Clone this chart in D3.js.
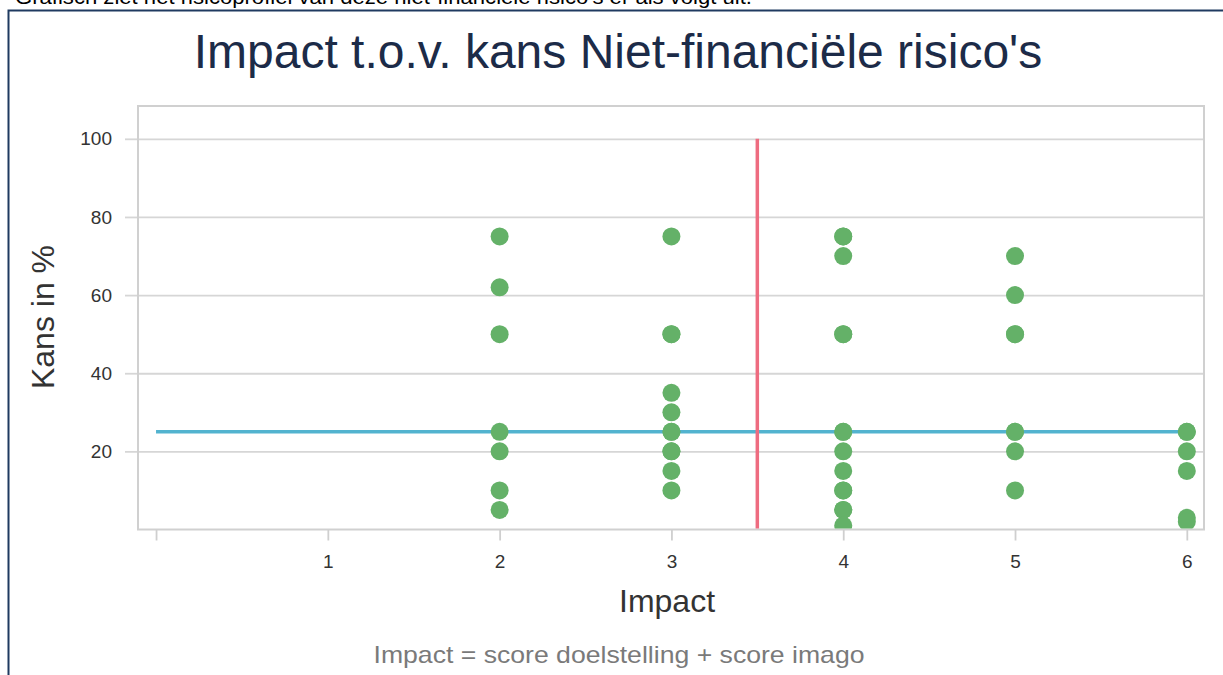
<!DOCTYPE html>
<html>
<head>
<meta charset="utf-8">
<script src="https://cdn.jsdelivr.net/npm/d3@7"></script>
<style>
  body { margin: 0; background: #fff; }
  svg { display: block; }
</style>
</head>
<body>
<div id="chart"></div>
<script>
// values
const impact = [2, 2, 2, 2, 2, 2, 2,
                3, 3, 3, 3, 3, 3, 3, 3, 3, 3, 3,
                4, 4, 4, 4, 4, 4, 4, 4, 4, 4, 4, 4, 4, 4,
                5, 5, 5, 5, 5, 5, 5, 5,
                6, 6, 6, 6, 6, 6];
const kans = [75, 62, 50, 25, 20, 10, 5,
              75, 50, 50, 35, 30, 25, 25, 20, 20, 15, 10,
              75, 75, 70, 50, 50, 25, 25, 20, 15, 10, 10, 5, 5, 1,
              70, 60, 50, 50, 25, 25, 20, 10,
              25, 25, 20, 15, 3, 2];
const xTicks = [0, 1, 2, 3, 4, 5, 6];
const yTicks = [20, 40, 60, 80, 100];
const kansThreshold = 25;
const impactThreshold = 3.5;

const W = 1223, H = 675;
const plot = { left: 138, right: 1204, top: 106, bottom: 529.5 };

const svg = d3.select("#chart")
    .append("svg")
    .attr("width", W)
    .attr("height", H);

// page text cut off at the top
svg.append("text")
    .attr("x", 15)
    .attr("y", 4)
    .attr("textLength", 737)
    .attr("lengthAdjust", "spacingAndGlyphs")
    .style("font-family", "Liberation Sans, Arial, sans-serif")
    .style("font-size", "20px")
    .attr("fill", "#000")
    .text("Grafisch ziet het risicoprofiel van deze niet-financiële risico's er als volgt uit.");

// frame
svg.append("path")
    .attr("d", `M8.5,${H + 5} V10.5 H${W + 5}`)
    .attr("fill", "none")
    .attr("stroke", "#1f3a60")
    .attr("stroke-width", 2);

const x = d3.scaleLinear()
    .domain([-0.105, 6.1])
    .range([plot.left, plot.right]);

const y = d3.scaleLinear()
    .domain([0, 108.4])
    .range([plot.bottom, plot.top]);

const font = "Liberation Sans, Arial, sans-serif";

// title
svg.append("text")
    .attr("x", 618)
    .attr("y", 68)
    .attr("text-anchor", "middle")
    .style("font-family", font)
    .style("font-size", "48px")
    .attr("fill", "#1c2b48")
    .text("Impact t.o.v. kans Niet-financiële risico's");

// gridlines
svg.append("g")
    .attr("transform", `translate(${plot.left},0)`)
    .call(d3.axisLeft(y).tickValues(yTicks).tickSize(-(plot.right - plot.left)).tickFormat(""))
    .call(g => g.select(".domain").remove())
    .call(g => g.selectAll("line").attr("stroke", "#d6d6d6").attr("stroke-width", 1.8));

// y axis stubs + labels
svg.append("g")
    .attr("transform", `translate(${plot.left},0)`)
    .call(d3.axisLeft(y).tickValues(yTicks).tickSize(13).tickPadding(13))
    .call(g => g.select(".domain").remove())
    .call(g => g.selectAll("line").attr("stroke", "#d6d6d6").attr("stroke-width", 1.8))
    .call(g => g.selectAll("text")
        .style("font-family", font)
        .style("font-size", "19px")
        .attr("fill", "#333"));

// x axis
svg.append("g")
    .attr("transform", `translate(0,${plot.bottom})`)
    .call(d3.axisBottom(x).tickValues(xTicks).tickSize(11).tickPadding(14)
        .tickFormat(d => d === 0 ? "" : d))
    .call(g => g.select(".domain").remove())
    .call(g => g.selectAll("line").attr("stroke", "#cfcfcf").attr("stroke-width", 1.8))
    .call(g => g.selectAll("text")
        .style("font-family", font)
        .style("font-size", "19px")
        .attr("fill", "#333"));

// plot border
svg.append("rect")
    .attr("x", plot.left)
    .attr("y", plot.top)
    .attr("width", plot.right - plot.left)
    .attr("height", plot.bottom - plot.top)
    .attr("fill", "none")
    .attr("stroke", "#d0d0d0")
    .attr("stroke-width", 2);

svg.append("clipPath")
    .attr("id", "plot-clip")
    .append("rect")
    .attr("x", plot.left)
    .attr("y", plot.top)
    .attr("width", plot.right - plot.left)
    .attr("height", plot.bottom - plot.top - 1);

const inner = svg.append("g").attr("clip-path", "url(#plot-clip)");

// threshold lines
inner.append("line")
    .attr("x1", x(0))
    .attr("x2", x(6))
    .attr("y1", y(kansThreshold))
    .attr("y2", y(kansThreshold))
    .attr("stroke", "#52b3cf")
    .attr("stroke-width", 3.5);

inner.append("line")
    .attr("x1", x(impactThreshold))
    .attr("x2", x(impactThreshold))
    .attr("y1", y(0))
    .attr("y2", y(100))
    .attr("stroke", "#ee6c80")
    .attr("stroke-width", 3.5);

// points
inner.selectAll("circle")
    .data(impact.map((d, i) => ({ impact: d, kans: kans[i] })))
    .enter()
    .append("circle")
    .attr("cx", d => x(d.impact))
    .attr("cy", d => y(d.kans))
    .attr("r", 9)
    .attr("fill", "#64b168");

// axis titles
svg.append("text")
    .attr("transform", "translate(54,317) rotate(-90)")
    .attr("text-anchor", "middle")
    .style("font-family", font)
    .style("font-size", "32px")
    .attr("fill", "#333")
    .text("Kans in %");

svg.append("text")
    .attr("x", 667)
    .attr("y", 612)
    .attr("text-anchor", "middle")
    .style("font-family", font)
    .style("font-size", "32px")
    .attr("fill", "#333")
    .text("Impact");

svg.append("text")
    .attr("x", 619)
    .attr("y", 663)
    .attr("text-anchor", "middle")
    .attr("textLength", 491)
    .attr("lengthAdjust", "spacingAndGlyphs")
    .style("font-family", font)
    .style("font-size", "24px")
    .attr("fill", "#7a7a7a")
    .text("Impact = score doelstelling + score imago");
</script>
</body>
</html>
